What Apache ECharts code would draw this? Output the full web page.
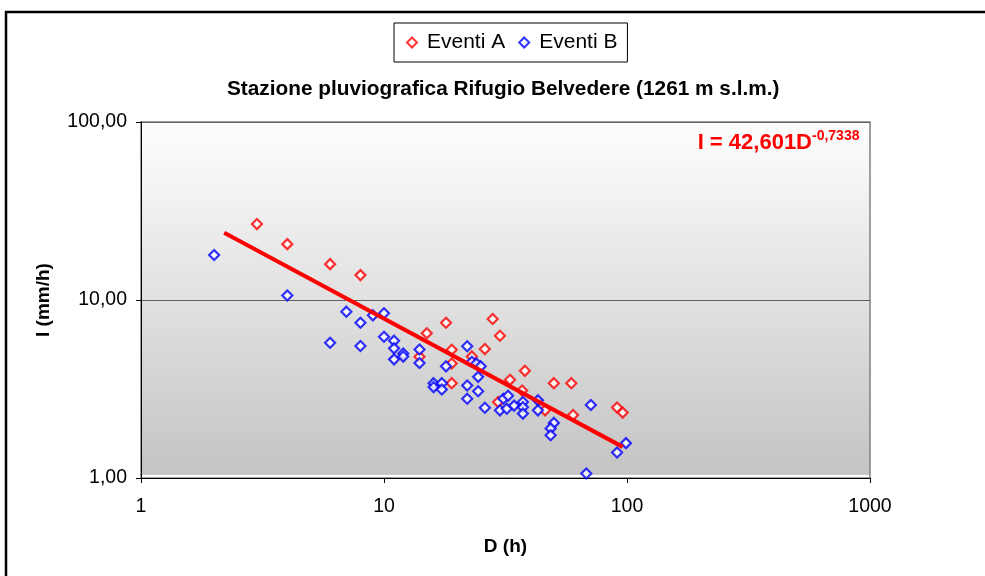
<!DOCTYPE html>
<html>
<head>
<meta charset="utf-8">
<title>Stazione pluviografica Rifugio Belvedere</title>
<script src="https://cdn.jsdelivr.net/npm/echarts@6/dist/echarts.min.js"></script>
<style>
  html, body { margin: 0; padding: 0; background: #fff; }
  #chart { width: 985px; height: 576px; }
</style>
</head>
<body>
<div id="chart"></div>
<script>
// Rainfall events: duration D (h) and intensity I (mm/h)
const eventiA = [
  [3, 26.7], [4, 20.6], [6, 15.9], [8, 13.8], [14, 4.8], [15, 6.5],
  [18, 7.45], [19, 5.25], [19, 4.4], [19, 3.41], [23, 4.82], [26, 5.3],
  [28, 7.82], [30, 6.3], [29.5, 2.67], [33, 3.56], [37, 3.1], [38, 4.0],
  [46, 2.4], [50, 3.41], [59, 3.41], [60, 2.26], [91, 2.49], [96, 2.33]
];
const eventiB = [
  [2, 17.9], [4, 10.6], [6, 5.75], [7, 8.6], [8, 7.45], [8, 5.52],
  [9, 8.2], [10, 8.42], [10, 6.22], [11, 5.91], [11, 5.35], [11, 4.64],
  [12, 5.0], [12, 4.81], [14, 5.27], [14, 4.43], [16, 3.41], [17.3, 3.41],
  [16, 3.24], [17.3, 3.14], [18, 4.24], [22, 5.5], [22, 3.31], [22, 2.79],
  [23, 4.5], [24, 4.4], [25, 4.24], [24.4, 3.7], [24.4, 3.07], [26, 2.48],
  [30, 2.4], [32, 2.45], [31, 2.79], [32.4, 2.9], [34.3, 2.55], [37.3, 2.67],
  [37.3, 2.5], [37.3, 2.3], [43, 2.73], [43, 2.4], [50, 2.04], [48.5, 1.9],
  [48.5, 1.74], [68, 1.06], [71, 2.57], [91, 1.39], [99, 1.57]
];

// Power-law fit I = a * D^b and the duration range it covers
const trendA = 42.601;
const trendB = -0.7338;
const trendRange = [2.2, 96];

// Tick labels (decades)
const xTickLabels = ['1', '10', '100', '1000'];
const yTickLabels = ['1,00', '10,00', '100,00'];

const seriesNames = ['Eventi A', 'Eventi B'];
const titleText = 'Stazione pluviografica Rifugio Belvedere (1261 m s.l.m.)';
const xName = 'D (h)';
const yName = 'I (mm/h)';

const FONT = "'Liberation Sans', Arial, Helvetica, sans-serif";
const decimalComma = v => String(v).replace('.', ',');
const trendData = trendRange.map(d => [d, trendA * Math.pow(d, trendB)]);
const decadeIndex = v => Math.round(Math.log10(v));

const chart = echarts.init(document.getElementById('chart'), null, { renderer: 'canvas' });

chart.setOption({
  animation: false,
  textStyle: { fontFamily: FONT },
  title: {
    text: titleText,
    left: 227,
    top: 79,
    padding: 0,
    textStyle: { fontFamily: FONT, fontSize: 20.8, fontWeight: 'bold', color: '#000' }
  },
  legend: {
    data: [
      { name: seriesNames[0], icon: 'diamond' },
      { name: seriesNames[1], icon: 'diamond' }
    ],
    left: 394,
    top: 23,
    orient: 'horizontal',
    padding: [9, 10, 9, 12],
    itemGap: 13,
    itemWidth: 10,
    itemHeight: 10,
    borderColor: '#000',
    borderWidth: 1,
    backgroundColor: '#fff',
    textStyle: { fontFamily: FONT, fontSize: 21, color: '#000', padding: [0, 0, 0, 5] }
  },
  grid: {
    left: 141,
    right: 115,
    top: 122,
    bottom: 98,
    show: true,
    borderColor: '#808080',
    borderWidth: 1.5,
    backgroundColor: new echarts.graphic.LinearGradient(0, 0, 0, 1, [
      { offset: 0, color: '#fefefe' },
      { offset: 0.988, color: '#c4c4c4' },
      { offset: 0.989, color: '#ffffff' },
      { offset: 1, color: '#ffffff' }
    ])
  },
  xAxis: {
    type: 'log',
    logBase: 10,
    min: 1,
    max: 1000,
    name: xName,
    nameLocation: 'middle',
    nameGap: 59,
    nameTextStyle: { fontFamily: FONT, fontSize: 19, fontWeight: 'bold', color: '#000' },
    axisLine: { show: true, onZero: false, lineStyle: { color: '#000', width: 1 } },
    axisTick: { show: true, length: 5, lineStyle: { color: '#000' } },
    axisLabel: {
      margin: 19,
      fontFamily: FONT,
      fontSize: 19.5,
      color: '#000',
      formatter: v => xTickLabels[decadeIndex(v)]
    },
    splitLine: { show: false },
    minorTick: { show: false }
  },
  yAxis: {
    type: 'log',
    logBase: 10,
    min: 1,
    max: 100,
    name: yName,
    nameLocation: 'middle',
    nameGap: 88,
    nameTextStyle: { fontFamily: FONT, fontSize: 19, fontWeight: 'bold', color: '#000' },
    axisLine: { show: true, onZero: false, lineStyle: { color: '#000', width: 1 } },
    axisTick: { show: true, length: 5, lineStyle: { color: '#000' } },
    axisLabel: {
      margin: 14,
      fontFamily: FONT,
      fontSize: 19.5,
      color: '#000',
      formatter: v => yTickLabels[decadeIndex(v)]
    },
    splitLine: { show: true, lineStyle: { color: '#606060', width: 1 } },
    minorTick: { show: false }
  },
  series: [
    {
      name: seriesNames[0],
      type: 'scatter',
      symbol: 'diamond',
      symbolSize: 10,
      data: eventiA,
      itemStyle: { color: '#ffffff', borderColor: '#ff0000', borderWidth: 2.2 },
      z: 2
    },
    {
      name: seriesNames[1],
      type: 'scatter',
      symbol: 'diamond',
      symbolSize: 10,
      data: eventiB,
      itemStyle: { color: '#ffffff', borderColor: '#0000ff', borderWidth: 2.2 },
      z: 3
    },
    {
      name: 'trend',
      type: 'line',
      data: trendData,
      showSymbol: false,
      symbol: 'none',
      lineStyle: { color: '#ff0000', width: 4 },
      z: 4,
      silent: true
    }
  ],
  graphic: [
    {
      type: 'rect',
      shape: { x: 6, y: 12, width: 1000, height: 620 },
      style: { fill: 'none', stroke: '#000', lineWidth: 2.5 },
      silent: true,
      z: 10
    },
    {
      type: 'text',
      style: {
        text: 'I = ' + decimalComma(trendA) + 'D',
        x: 812,
        y: 143,
        align: 'right',
        verticalAlign: 'middle',
        font: 'bold 22px ' + FONT,
        fill: '#ff0000'
      },
      z: 10
    },
    {
      type: 'text',
      style: {
        text: decimalComma(trendB),
        x: 812,
        y: 136,
        align: 'left',
        verticalAlign: 'middle',
        font: 'bold 14px ' + FONT,
        fill: '#ff0000'
      },
      z: 10
    }
  ]
});
</script>
</body>
</html>
